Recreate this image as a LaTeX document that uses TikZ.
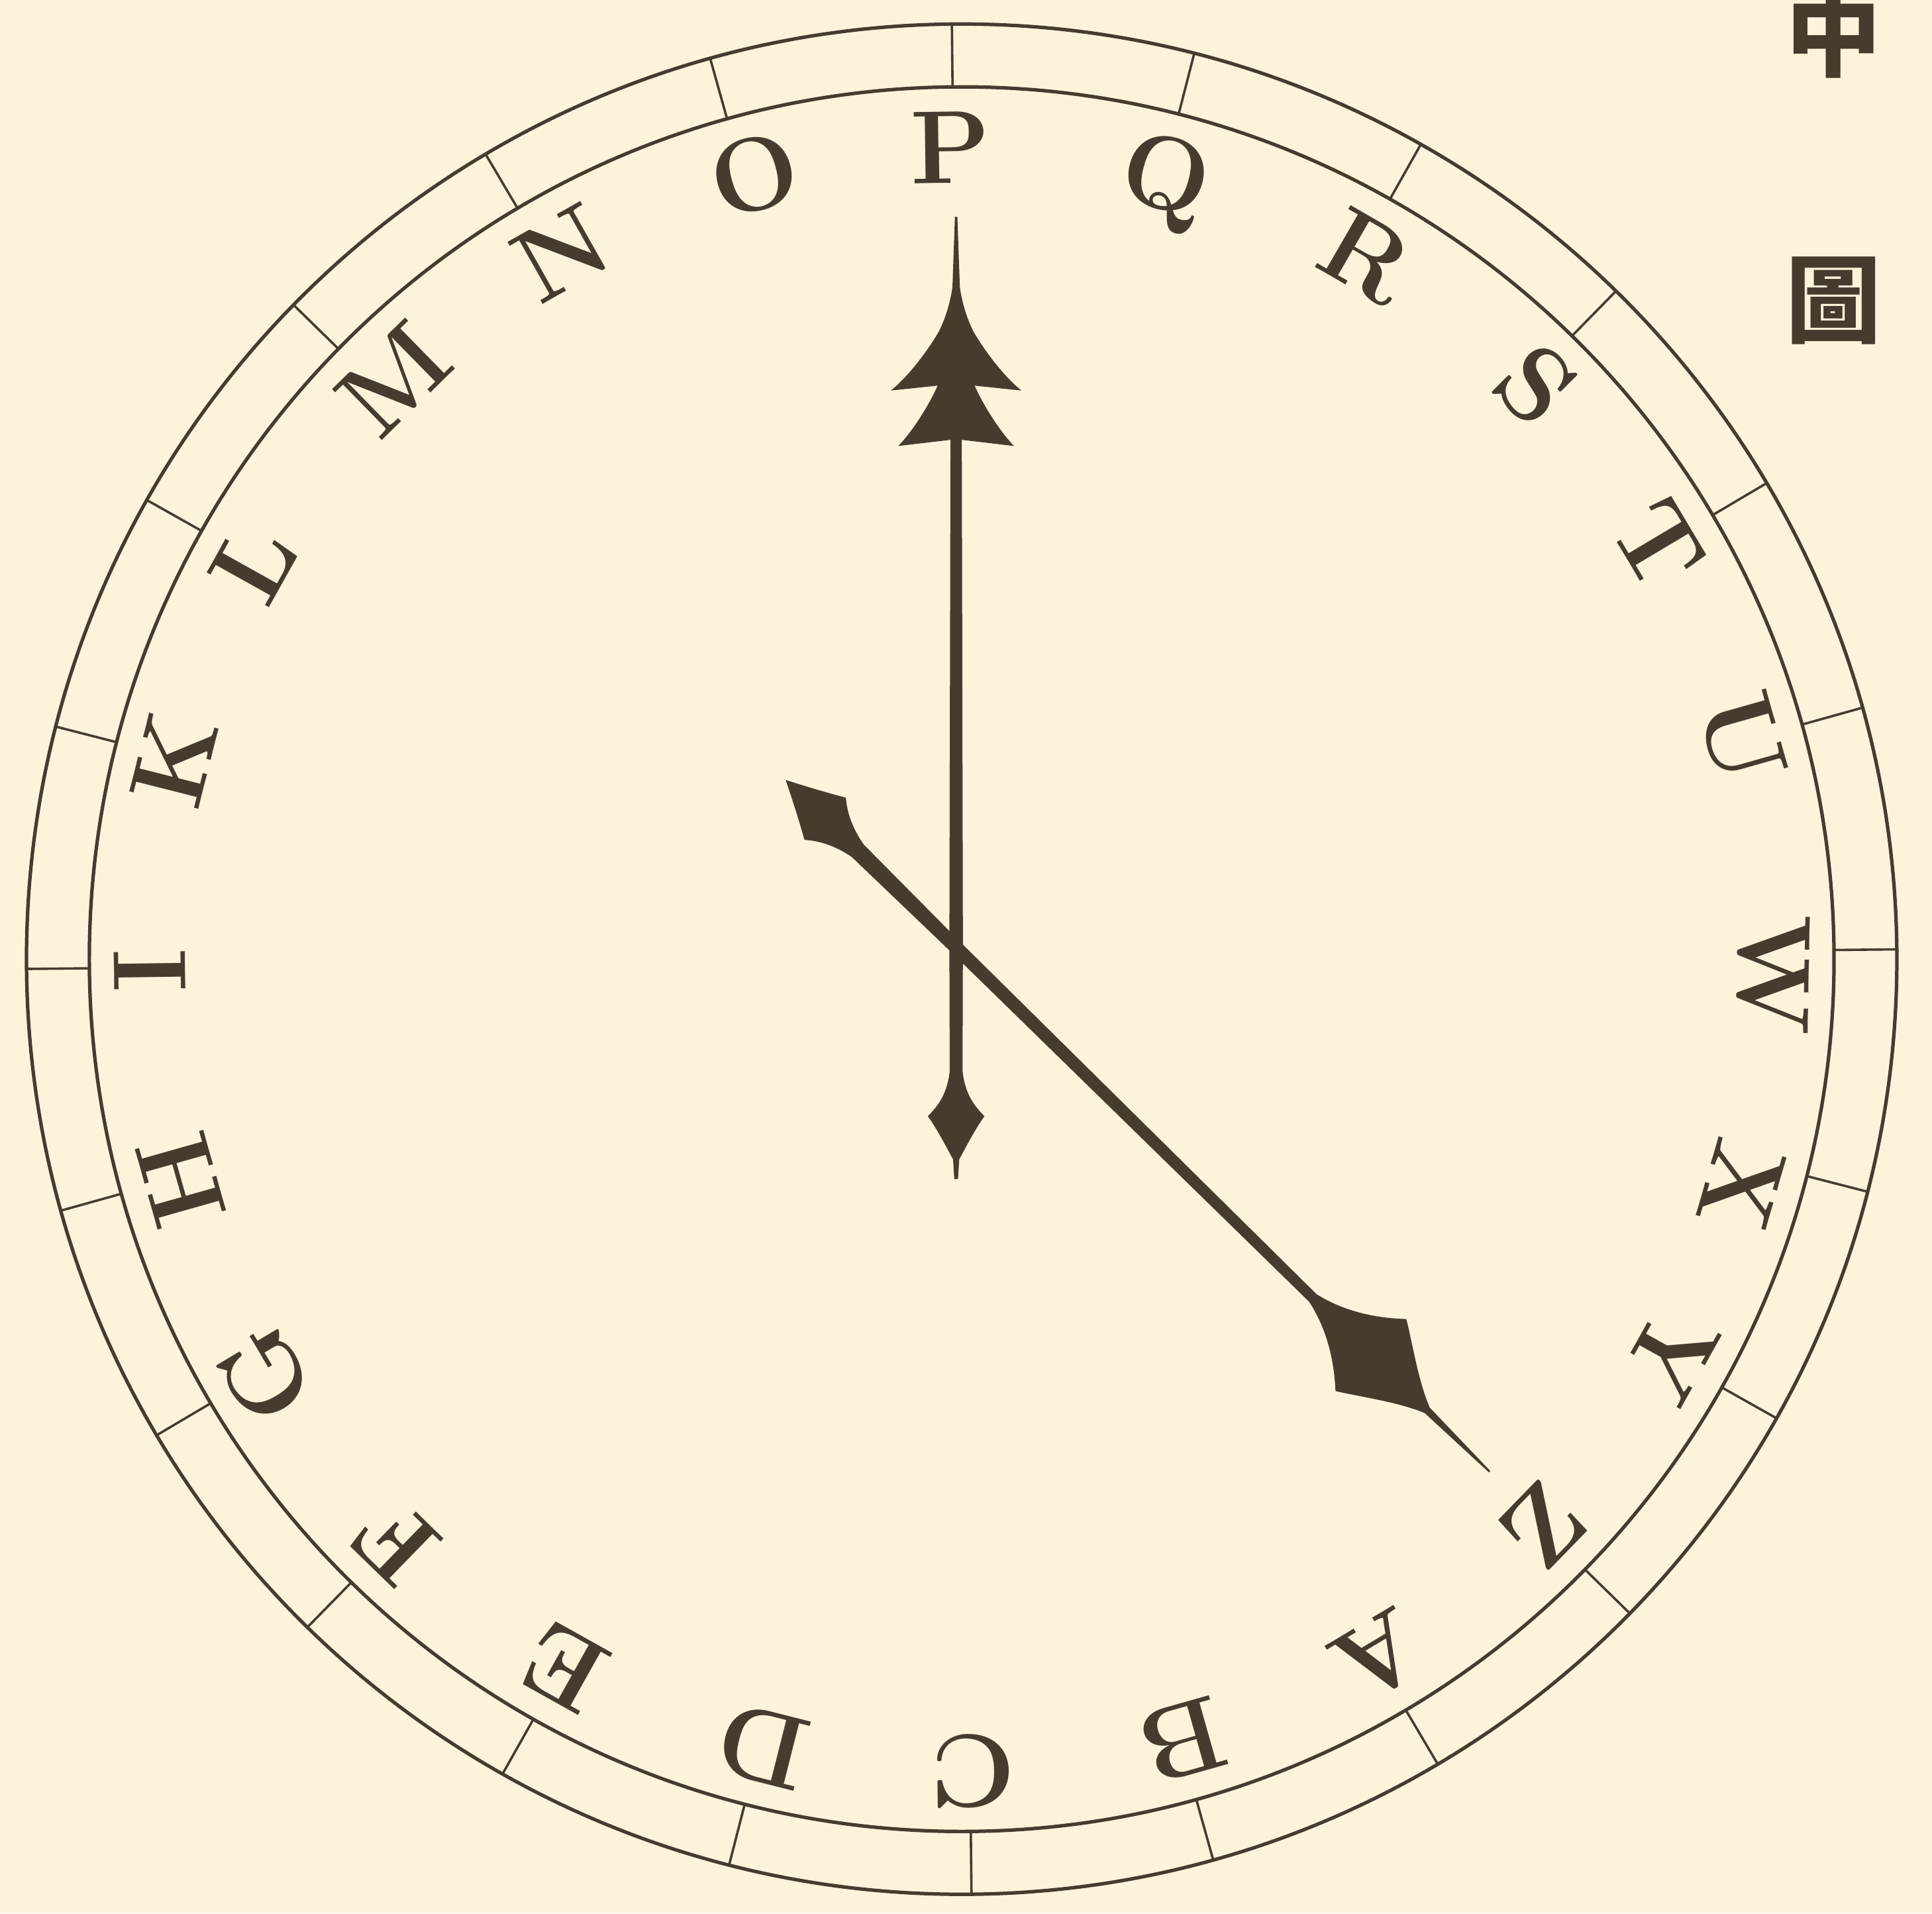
\documentclass[tikz,border=0pt]{standalone}
\usepackage{fontspec}
\newfontfamily\cjkfont{Noto Sans CJK TC}
\usetikzlibrary{calc}
\definecolor{paper}{RGB}{252,243,219}
\definecolor{ink}{RGB}{70,60,46}
\begin{document}
\begin{tikzpicture}[x=0.01cm,y=0.01cm,
  ring/.style={draw=ink,line width=0.8pt},
  tickline/.style={draw=ink,line width=0.55pt},
  letter/.style={text=ink,inner sep=0pt,anchor=base,font=\fontsize{24}{28}\selectfont\bfseries\addfontfeatures{FakeBold=0.8}},
  handfill/.style={fill=ink,draw=none},
  hanzi/.style={text=ink,inner sep=0pt,font=\cjkfont\fontsize{22}{26}\selectfont\bfseries}]
\fill[paper] (0,0) rectangle (1568,1553);
\useasboundingbox (0,0) rectangle (1568,1553);
\coordinate (D) at (780.5,774.5);
\coordinate (H) at (776,784);
% dial ring
\draw[ring] (D) circle[radius=759];
\draw[ring] (D) circle[radius=708];
\foreach \i in {0,...,23} {
  \draw[tickline] ($(D)+({90.6-15*\i}:708)$) -- ($(D)+({90.6-15*\i}:759)$);
}
% letters
\foreach \l/\d [count=\i from 0] in {P/0,Q/-0.4,R/-0.8,S/-0.8,T/0,U/0,W/-1.9,X/-2,Y/0,Z/0,A/0,B/0,C/0,D/0,E/0,F/0,G/0,H/0,I/0,K/0,L/0,M/-1.4,N/-1.3,O/-1} {
  \node[letter,rotate={0.8-15*\i+\d}] (L\l) at ($(D)+({90.8-15*\i+\d}:630)$) {\l};
}
% vertical hand
\begin{scope}[shift={(H)}]
\fill[handfill] (1.5,-188) -- (2.5,-172) .. controls (10,-158) and (17,-145) .. (23,-137)
  .. controls (14,-128) and (7,-118) .. (5.2,-100) -- (5.5,0) -- (4.6,412)
  -- (47,407) .. controls (38,416) and (24,436) .. (15,456)
  -- (53,452) .. controls (38,464) and (22,486) .. (14,500)
  .. controls (9,510) and (5,522) .. (3,536)
  -- (1,593) -- (-1,593) -- (-3,536)
  .. controls (-5,522) and (-9,510) .. (-14,500)
  .. controls (-22,486) and (-38,464) .. (-53,452) -- (-15,456)
  .. controls (-24,436) and (-38,416) .. (-47,407) -- (-4.6,412)
  -- (-5.5,0) -- (-5.2,-100) .. controls (-7,-118) and (-14,-128) .. (-23,-137)
  .. controls (-17,-145) and (-10,-158) .. (-2.5,-172) -- (-1.5,-188) -- cycle;
\end{scope}
% diagonal hand
\begin{scope}[shift={(H)},rotate=-44.5]
\fill[handfill] (-194,0) .. controls (-178,8) and (-163,16) .. (-149,24)
  .. controls (-140,16) and (-128,10) .. (-112,7) -- (0,5.5) -- (406,4.3)
  .. controls (436,11) and (458,28) .. (472,41)
  .. controls (490,30) and (514,12) .. (536,3) -- (607,0.8) -- (607,-0.8) -- (536,-3)
  .. controls (514,-12) and (490,-30) .. (472,-41)
  .. controls (458,-28) and (436,-11) .. (406,-4.3) -- (0,-5.5) -- (-112,-7)
  .. controls (-128,-10) and (-140,-16) .. (-149,-24)
  .. controls (-163,-16) and (-178,-8) .. (-194,0) -- cycle;
\end{scope}
% caption characters
\node[hanzi] (zhong) at (1488,1526) {中};
\node[hanzi] (tu) at (1488,1309) {圖};
\end{tikzpicture}
\end{document}
